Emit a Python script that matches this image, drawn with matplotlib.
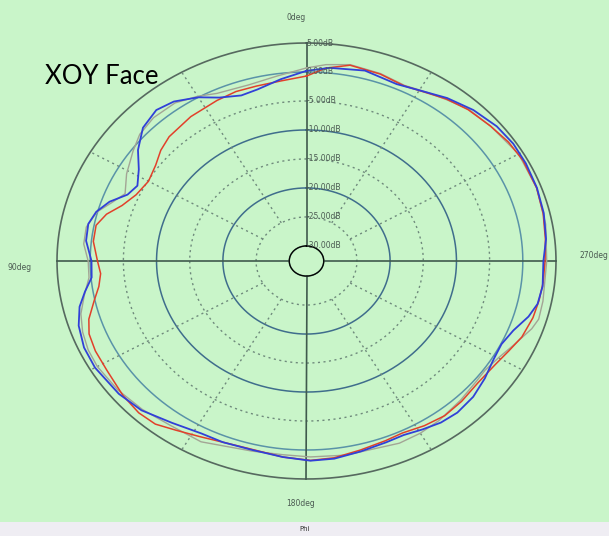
import numpy as np
import matplotlib.pyplot as plt
from matplotlib.patches import Rectangle

# measured gain pattern, XOY plane (angle in deg, gain in dB)
red_ang = [0, 7, 14, 20, 26, 35, 44, 49, 54, 60, 66, 71, 75, 79, 84, 90, 94, 98, 102,
           107, 111, 116, 122, 130, 136, 141, 146, 152, 158, 165, 174, 181, 187, 194,
           201, 206, 212, 218, 224, 231, 238, 243, 248, 254, 259, 264, 270, 276, 283,
           290, 298, 304, 310, 317, 323, 328, 334, 341, 349, 355]
red_db = [-0.7, -1.3, -1.5, -1.5, -1.8, -2.2, -2.8, -3.5, -4.5, -5.1, -4.5, -3.2, -1.4,
          -0.3, -0.3, -1.1, -1.5, -1.0, 0.1, 1.7, 2.5, 2.8, 2.9, 3.5, 3.8, 3.6, 2.6, 1.7,
          1.1, 0.9, 1.4, 1.8, 1.6, 1.0, 0.6, 0.4, 0.9, 1.25, 1.05, 0.7, 1.0, 1.6, 2.4,
          2.9, 3.1, 3.25, 3.35, 3.6, 4.0, 4.3, 4.35, 4.1, 3.6, 3.1, 2.4, 1.6, 1.0, 1.5,
          1.8, 0.8]

blue_ang = [0, 7, 14, 19, 25, 30, 36, 41, 47, 53, 58, 63, 67, 71, 75, 79, 84, 90, 95, 99,
            103, 108, 114, 120, 129, 136, 144, 152, 158, 166, 174, 181, 187, 194, 201,
            206, 211, 216, 221, 227, 233, 239, 244, 249, 254, 258, 263, 270, 276, 283,
            290, 297, 303, 309, 316, 323, 330, 336, 345, 354]
blue_db = [0.2, -1.0, -2.1, -2.4, -1.5, 0.0, 1.4, 1.9, 1.1, -0.8, -2.8, -4.0, -3.3,
           -1.2, 0.2, 0.9, 0.8, -0.2, -0.1, 1.2, 2.5, 3.5, 4.1, 4.2, 3.8, 3.2, 1.9, 1.1,
           1.1, 1.0, 1.4, 1.85, 1.75, 1.25, 0.9, 0.8, 1.3, 1.85, 2.05, 1.75, 1.05, 0.3,
           0.1, 0.8, 2.2, 3.0, 3.25, 3.1, 3.7, 4.1, 4.35, 4.5, 4.55, 4.3, 3.6, 2.6, 1.4,
           0.8, 1.4, 0.9]

gray_ang = [0, 8, 16, 25, 30, 36, 43, 49, 54, 61, 67, 71, 75, 80, 85, 90, 95, 100, 105,
            110, 115, 120, 128, 136, 144, 153, 166, 174, 181, 190, 204, 210, 216, 224,
            231, 235, 240, 245, 251, 254, 259, 270, 280, 290, 300, 310, 317, 323, 328,
            334, 341, 349, 355]
gray_db = [0.7, -0.4, -1.0, -0.7, 0.2, 1.1, 1.2, 0.7, -0.3, -1.6, -2.9, -1.6, 0.1, 1.1,
           1.1, 0.3, 0.3, 1.4, 2.6, 3.3, 3.7, 3.8, 3.5, 3.0, 2.4, 2.4, 1.2, 1.0, 1.2,
           1.4, 1.8, 1.7, 1.4, 0.8, 0.35, 0.25, 0.8, 1.8, 3.3, 3.8, 3.7, 3.6, 4.0, 4.3,
           4.3, 3.6, 3.2, 2.3, 1.7, 1.1, 1.6, 1.9, 1.4]

ring_db = [5, 0, -5, -10, -15, -20, -25, -30]
ring_lbl = ["5.00dB", "0.00dB", "-5.00dB", "-10.00dB", "-15.00dB", "-20.00dB",
            "-25.00dB", "-30.00dB"]

W, H = 609, 536
bg = "#c9f5c9"


def px(x, y):
    return x / W, 1 - y / H


fig = plt.figure(figsize=(W / 100, H / 100), dpi=100)
fig.patch.set_facecolor(bg)
fig.add_artist(Rectangle((0, 0), 1, 14 / H, transform=fig.transFigure,
                         facecolor="#efedf3", edgecolor="none"))

ax = fig.add_axes([57 / W, 1 - 479 / H, 499 / W, 436 / H], projection="polar")
ax.set_aspect("auto")
ax.patch.set_alpha(0)
ax.set_theta_zero_location("N")
ax.set_theta_direction(1)
ax.set_ylim(-30, 5)
ax.set_rorigin(-32.6)
ax.grid(False)
ax.set_xticks([])
ax.set_yticks([])
for s in ax.spines.values():
    s.set_visible(False)

t = np.linspace(0, 2 * np.pi, 721)
for v in ring_db:
    if v == 5:
        ax.plot(t, np.full_like(t, v), color="#56695f", lw=1.2, clip_on=False)
    elif v == 0:
        ax.plot(t, np.full_like(t, v), color="#5a93a8", lw=1.1)
    elif v == -30:
        ax.plot(t, np.full_like(t, v), color="#3f5a4d", lw=1.1, clip_on=False)
    elif v % 10 == 0:
        ax.plot(t, np.full_like(t, v), color="#3f6d8c", lw=1.1)
    else:
        ax.plot(t, np.full_like(t, v), color="#6f8a7c", lw=1.0, ls=(0, (1.5, 2.5)))

for a in range(0, 360, 30):
    th = np.deg2rad(a)
    if a % 90 == 0:
        ax.plot([th, th], [-30, 5], color="#3f5a4d", lw=1.2, clip_on=False)
    else:
        ax.plot([th, th], [-25, 5], color="#6f8a7c", lw=1.0, ls=(0, (1.5, 2.5)))


def trace(ang, db, color, lw):
    th = np.deg2rad(ang + [ang[0] + 360])
    ax.plot(th, db + [db[0]], color=color, lw=lw, solid_joinstyle="round")


trace(gray_ang, gray_db, "#a3a595", 1.0)
trace(red_ang, red_db, "#e2402a", 1.1)
trace(blue_ang, blue_db, "#3040d8", 1.3)

for v, s in zip(ring_db, ring_lbl):
    ax.text(0, v, s, fontsize=5.5, color="#4b5a52", ha="left", va="center")

tc = "#4b5a52"
fig.text(*px(296, 17), "0deg", fontsize=5.5, color=tc, ha="center", va="center")
fig.text(*px(8, 267), "90deg", fontsize=5.5, color=tc, ha="left", va="center")
fig.text(*px(580, 256), "270deg", fontsize=5.5, color=tc, ha="left", va="center")
fig.text(*px(301, 503), "180deg", fontsize=5.5, color=tc, ha="center", va="center")
fig.text(*px(305, 529), "Phi", fontsize=5, color="#333333", ha="center", va="center")
fig.text(*px(45, 77), "XOY Face", fontsize=18.5, family="Lato", color="black",
         ha="left", va="center")

fig.savefig("out.png", dpi=100, facecolor=bg)
